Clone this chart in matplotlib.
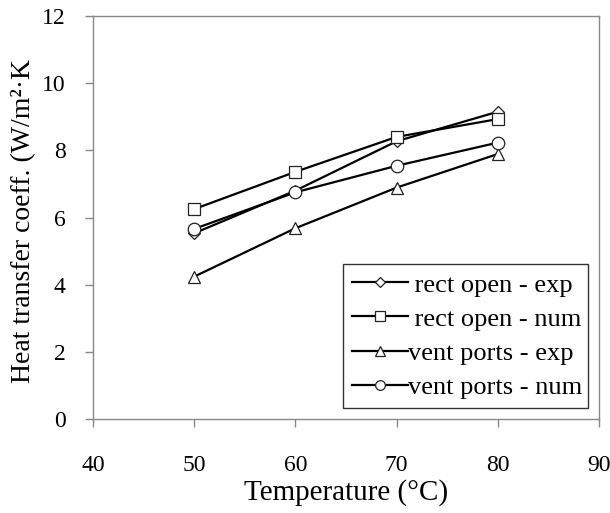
import matplotlib
matplotlib.use("Agg")
import matplotlib.pyplot as plt

temperature = [50, 60, 70, 80]
rect_open_exp = [5.53, 6.80, 8.27, 9.15]
rect_open_num = [6.25, 7.36, 8.40, 8.93]
vent_ports_exp = [4.24, 5.68, 6.89, 7.89]
vent_ports_num = [5.66, 6.75, 7.54, 8.23]

labels = [" rect open - exp", " rect open - num", "vent ports - exp", "vent ports - num"]
xticks = [40, 50, 60, 70, 80, 90]
yticks = [0, 2, 4, 6, 8, 10, 12]

plt.rcParams['font.family'] = ['Liberation Serif', 'DejaVu Serif']

fig = plt.figure(figsize=(6.10, 5.13), dpi=100)
ax = fig.add_axes([93/610, 1 - 419/513, (599-93)/610, (419-16)/513])

series = [rect_open_exp, rect_open_num, vent_ports_exp, vent_ports_num]
markers = ['D', 's', '^', 'o']
msizes = [6.5, 9, 9, 9]
for s, m, ms, lab in zip(series, markers, msizes, labels):
    ax.plot(temperature, s, color='black', lw=1.6, marker=m, ms=ms,
            mfc='white', mec='#222222', mew=0.9, label=lab)

ax.set_xlim(40, 90)
ax.set_ylim(0, 12)
ax.set_xticks(xticks)
ax.set_yticks(yticks)
ax.tick_params(axis='both', direction='out', length=5.8, width=1, color='#888888',
               labelsize=17)
ax.tick_params(axis='x', pad=20)
ax.tick_params(axis='y', pad=14)
for sp in ax.spines.values():
    sp.set_color('#888888')
    sp.set_linewidth(1)

ax.set_xlabel("Temperature (°C)", fontsize=21, labelpad=2)
fig.text(24/610, 1 - 383/513, "Heat transfer coeff. (W/m²·K", rotation=90,
         ha='center', va='bottom', fontsize=20)

leg = ax.legend(loc='lower left',
                bbox_to_anchor=((343-93)/506, (419-408)/403, (588-343)/506, 0.3),
                mode='expand', frameon=True, fancybox=False, fontsize=19,
                handlelength=2.1, handletextpad=0.0, labelspacing=0.4,
                borderpad=0.35, borderaxespad=0)
leg.get_frame().set_edgecolor('black')
leg.get_frame().set_linewidth(1.0)
for h, ms in zip(leg.legend_handles, [5, 7, 7, 7]):
    h.set_markersize(ms)

fig.savefig("out.png", dpi=100)
